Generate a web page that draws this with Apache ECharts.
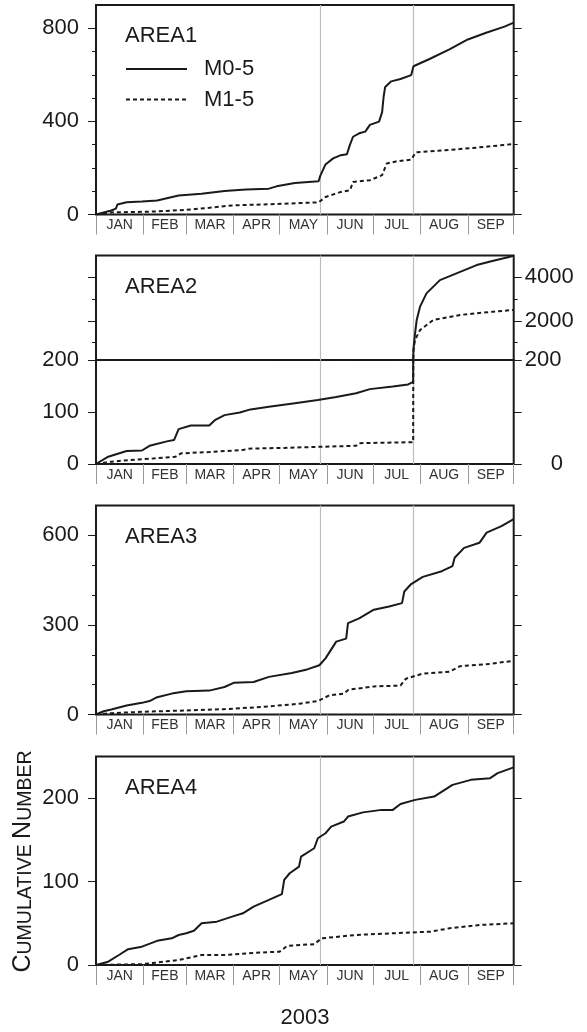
<!DOCTYPE html>
<html lang="en">
<head>
<meta charset="UTF-8">
<title>Cumulative number 2003</title>
<script src="https://cdn.jsdelivr.net/npm/echarts@6/dist/echarts.min.js"></script>
<style>
  html, body { margin: 0; padding: 0; background: #fff; }
  #chart { width: 587px; height: 1032px; }
</style>
</head>
<body>
<div id="chart"></div>
<script>
// x axis is day of year, Jan 1 2003 = 0
const months = ['JAN', 'FEB', 'MAR', 'APR', 'MAY', 'JUN', 'JUL', 'AUG', 'SEP'];
const monthStarts = [0, 31, 59, 90, 120, 151, 181, 212, 243, 273];
const eventDays = [146.4, 207.4];     // grey lines, May 26 and Jul 26

// [day, cumulative number]
const area1M0 = [[0,0],[10,17],[13,25],[14,43],[20,53],[30,56],[40,60],[54,82],[69,89],[84,101],[98,107],[113,111],[118,121],[130,135],[145.5,143],[146.5,165],[150,215],[155,241],[160,255],[164,259],[166,300],[168,334],[172,349],[176,356],[179,385],[185,399],[187,440],[188,507],[189,548],[193,572],[199,582],[206,599],[207.5,637],[218,668],[231,709],[243,752],[255,781],[267,807],[273,824]];
const area1M1 = [[0,0],[10,9],[35,12],[59,20],[74,29],[89,39],[108,43],[133,49],[145.5,52],[150,75],[160,97],[166,104],[168,140],[179,147],[187,169],[190,219],[196,228],[206,236],[209,267],[231,277],[255,291],[273,303]];

const area2M0 = [[0,0],[8,14],[20,25],[30,26],[35,35],[47,44],[51,46],[54,67],[62,74],[74,74],[78,85],[84,94],[94,99],[101,105],[113,110],[130,117],[145,123],[157,129],[170,136],[179,144],[194,149],[204,153],[207.3,158],[207.5,700],[208.3,1270],[209.6,2040],[211.8,2650],[216,3260],[224.8,3870],[238,4250],[248.8,4560],[259.7,4760],[270.6,4940],[273,5000]];
const area2M1 = [[0,0],[10,4.5],[22.5,7.7],[35,10],[52,14],[55.6,20.5],[74,23],[96,27],[99.7,29.5],[123,31],[145,33],[170,35],[172,40],[207.3,42],[207.6,700],[208.5,1120],[211.8,1580],[220.5,2040],[238,2270],[259.6,2420],[273,2500]];

const area3M0 = [[0,0],[5,11],[10,17],[20,30],[30,39],[35,45],[40,58],[49.5,70],[59,78],[74,80],[84,92],[90,106],[103,109],[113,126],[128,139],[138,151],[146,165],[150,188],[157,244],[163.5,254],[164.7,306],[172,322],[181.6,351],[191.6,362],[200,373],[201.5,412],[206,437],[213.6,461],[226,480],[233,497],[234.4,525],[240.6,558],[250.6,575],[255.3,609],[265,631],[273,654]];
const area3M1 = [[0,0],[10,4.5],[35,10],[59,13.5],[84,18],[108,25],[133,36],[145,45],[152.5,64],[162,70],[165,83],[181.6,94],[199,97],[202.6,120],[213.6,137],[231,143],[238,162],[255,168],[273,180]];

const area4M0 = [[0,0],[8,4],[15,12],[21,19],[30,22],[40,29],[49.5,32],[54,36],[59,38],[64,41],[69,50],[79,52],[89,58],[96,62],[103,70],[113,78],[121.5,85],[123,102],[126.6,110],[132.7,118],[134,130],[142.6,140],[145,152],[150,158],[153.7,166],[162,172],[164.7,178],[174.5,183],[186.6,186],[194,186],[199,193],[208.6,198],[221,202],[233,216],[245,222],[257.6,224],[262.5,230],[273,237]];
const area4M1 = [[0,0],[30,1],[40,3],[54,6],[69,12],[84,12],[108,15],[120,16],[125,23],[142.6,25],[147.5,32],[170,36],[194,38],[218.6,40],[231,44],[250.6,48],[273,50]];

// y ticks
const area1Ticks = [0, 400, 800];
const area1Minor = [100, 200, 300, 500, 600, 700];
const area2LowTicks = [0, 100, 200];
const area2LowRight = [0, 200];
const area2HighTicks = [2000, 4000];
const area2HighMinor = [1000, 3000];
const area3Ticks = [0, 300, 600];
const area3Minor = [100, 200, 400, 500];
const area4Ticks = [0, 100, 200];

const FONT = '"Liberation Sans", Arial, Helvetica, sans-serif';
const ink = '#1a1a1a';
const monthMids = monthStarts.slice(0, -1).map((d, i) => (d + monthStarts[i + 1]) / 2);

// one entry per grid; AREA2 is split into an upper and a lower grid
const grids = [
  { top: 5, height: 209.5, min: 0, max: 900, left: area1Ticks, minor: area1Minor, right: [], rightTicks: area1Ticks, m0: area1M0, m1: area1M1, months: true },
  { top: 255.5, height: 104.5, min: 200, max: 5000, left: [], leftTicks: area2HighTicks, minor: area2HighMinor, right: area2HighTicks, rightTicks: area2HighTicks, m0: area2M0, m1: area2M1, months: false },
  { top: 360, height: 104, min: 0, max: 200, left: area2LowTicks, minor: [], right: area2LowRight, rightTicks: area2LowTicks, m0: area2M0, m1: area2M1, months: true },
  { top: 505.5, height: 209, min: 0, max: 700, left: area3Ticks, minor: area3Minor, right: [], rightTicks: area3Ticks, m0: area3M0, m1: area3M1, months: true },
  { top: 756.5, height: 208.5, min: 0, max: 250, left: area4Ticks, minor: [], right: [], rightTicks: area4Ticks, m0: area4M0, m1: area4M1, months: true }
];

function yAxisFor(g, gi, pos, ticks, len, labels) {
  const lab = labels.length ? {
    customValues: labels, margin: pos === 'left' ? 17 : 11,
    fontSize: 22, color: ink, fontFamily: FONT,
    formatter: v => (pos === 'right' && v === 0 ? '{pad|0}' : String(v)),
    rich: { pad: { padding: [0, 0, 0, 26], fontSize: 22, color: ink, fontFamily: FONT } }
  } : { show: false };
  return {
    type: 'value', gridIndex: gi, position: pos, min: g.min, max: g.max,
    axisLine: { show: false }, splitLine: { show: false },
    axisTick: { show: ticks.length > 0, customValues: ticks, length: len, lineStyle: { color: ink, width: 1 } },
    axisLabel: lab
  };
}

const gridOpts = [], xAxes = [], yAxes = [], series = [];
grids.forEach((g, gi) => {
  gridOpts.push({ left: 96, right: 73.3, top: g.top, height: g.height, show: true,
    borderColor: ink, borderWidth: 2, backgroundColor: 'transparent', outerBoundsMode: 'none' });
  xAxes.push({
    type: 'value', gridIndex: gi, position: 'bottom', min: 0, max: 273,
    axisLine: { show: false }, splitLine: { show: false },
    axisTick: { show: g.months, customValues: monthStarts, length: 20, lineStyle: { color: '#9a9a9a', width: 1 } },
    axisLabel: g.months ? {
      customValues: monthMids, margin: 4, fontSize: 14, color: '#333', fontFamily: FONT,
      formatter: v => months[monthMids.findIndex(m => Math.abs(m - v) < 0.01)] || ''
    } : { show: false }
  });
  const base = yAxes.length;
  const leftTicks = g.leftTicks || g.left;
  yAxes.push(yAxisFor(g, gi, 'left', leftTicks, 8, g.left));
  yAxes.push(yAxisFor(g, gi, 'left', g.minor, 4, []));
  yAxes.push(yAxisFor(g, gi, 'right', g.rightTicks, 8, g.right));
  yAxes.push(yAxisFor(g, gi, 'right', g.minor, 4, []));

  series.push({
    type: 'line', xAxisIndex: gi, yAxisIndex: base, data: [], silent: true, z: 1,
    markLine: {
      silent: true, symbol: 'none', z: 1, label: { show: false },
      lineStyle: { color: '#bdbdbd', width: 1.2, type: 'solid' },
      data: eventDays.map(d => ({ xAxis: d }))
    }
  });
  series.push({
    name: 'M0-5', type: 'line', xAxisIndex: gi, yAxisIndex: base, data: g.m0,
    symbol: 'none', z: 3, color: ink, lineStyle: { color: ink, width: 2 }
  });
  series.push({
    name: 'M1-5', type: 'line', xAxisIndex: gi, yAxisIndex: base, data: g.m1,
    symbol: 'none', z: 3, color: ink, lineStyle: { color: ink, width: 2, type: [4, 3] }
  });
});

const areaNames = ['AREA1', 'AREA2', 'AREA3', 'AREA4'];
const areaTops = [5, 255.5, 505.5, 756.5];

const graphics = areaNames.map((t, i) => ({
  type: 'text', x: 125, y: areaTops[i] + 31,
  style: { text: t, fontSize: 22, fontFamily: FONT, fill: ink, align: 'left', verticalAlign: 'middle' }
}));
graphics.push({
  type: 'text', x: 23, y: 861.5, rotation: Math.PI / 2,
  style: {
    text: '{b|C}{s|UMULATIVE }{b|N}{s|UMBER}', align: 'center', verticalAlign: 'middle',
    rich: {
      b: { fontSize: 25, fontFamily: FONT, fill: ink, verticalAlign: 'bottom' },
      s: { fontSize: 19.5, fontFamily: FONT, fill: ink, verticalAlign: 'bottom' }
    }
  }
});
graphics.push({
  type: 'text', x: 305, y: 1018,
  style: { text: '2003', fontSize: 22, fontFamily: FONT, fill: ink, align: 'center', verticalAlign: 'middle' }
});

const chart = echarts.init(document.getElementById('chart'), null, { renderer: 'canvas' });
chart.setOption({
  animation: false,
  backgroundColor: '#fff',
  legend: {
    data: ['M0-5', 'M1-5'], orient: 'vertical', left: 125, top: 58,
    itemWidth: 61, itemHeight: 20, itemGap: 8.5, selectedMode: false, padding: 0,
    itemStyle: { opacity: 0, borderWidth: 0 },
    textStyle: { fontSize: 22, color: ink, fontFamily: FONT, padding: [0, 0, 0, 12] }
  },
  grid: gridOpts,
  xAxis: xAxes,
  yAxis: yAxes,
  series: series,
  graphic: graphics
});
</script>
</body>
</html>
